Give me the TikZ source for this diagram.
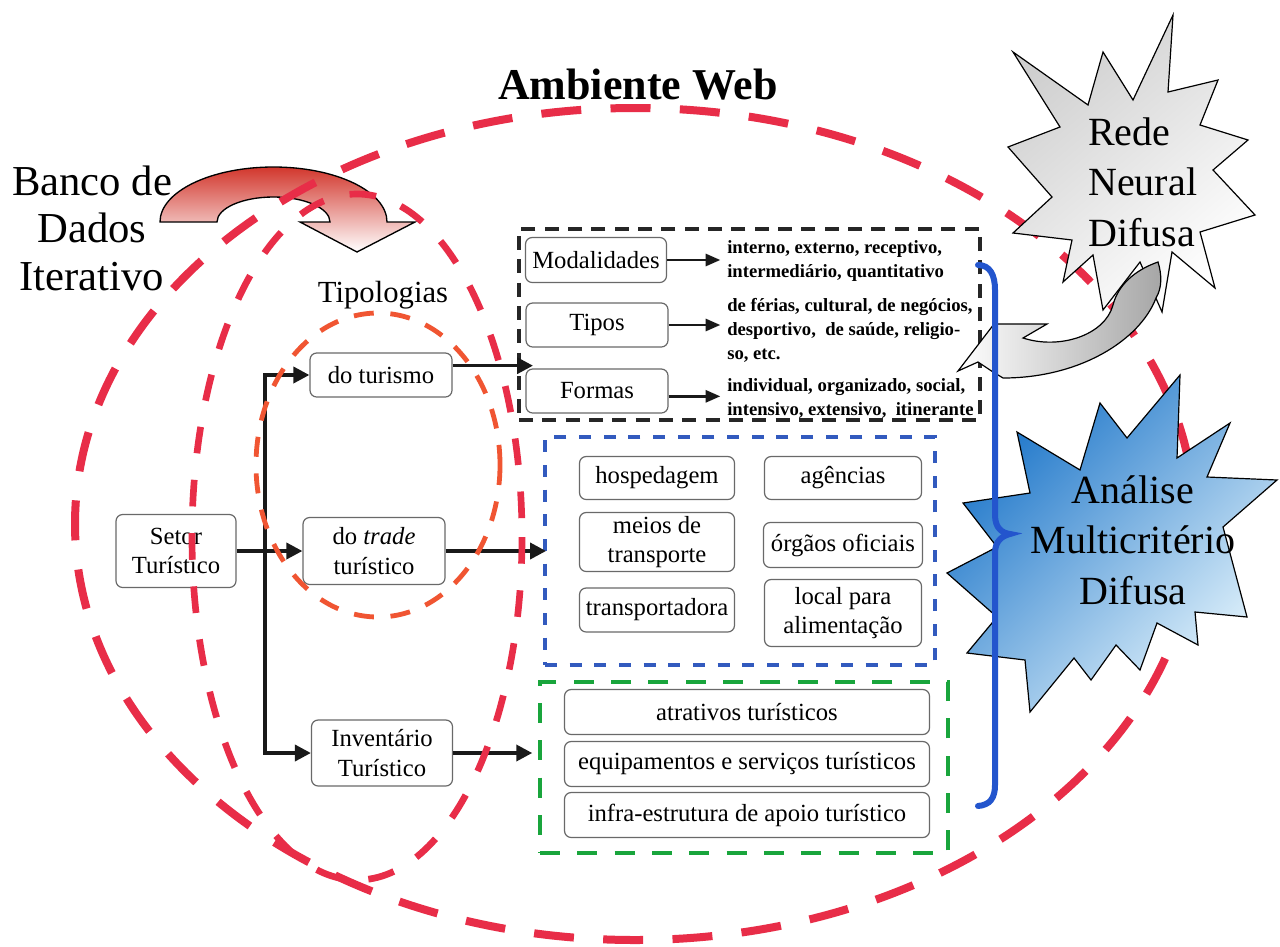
\documentclass[tikz,border=0pt]{standalone}
\usepackage{fontspec}
\setmainfont{Liberation Serif}
\usetikzlibrary{arrows.meta}

\newcommand\boxfont{\fontsize{18.5}{22}\selectfont}
\newcommand\notefont{\bfseries\fontsize{14}{18}\selectfont}

\definecolor{webred}{RGB}{232,45,72}
\definecolor{tipred}{RGB}{240,85,50}
\definecolor{infoblue}{RGB}{50,90,190}
\definecolor{invgreen}{RGB}{25,165,60}
\definecolor{bracecol}{RGB}{35,85,205}
\definecolor{boxgray}{RGB}{105,105,105}
\definecolor{dbred}{RGB}{210,55,45}
\definecolor{mcblue}{RGB}{25,115,200}
\definecolor{mclight}{RGB}{228,244,252}

\begin{document}
\begin{tikzpicture}[x=0.75pt,y=-0.75pt,
  tbox/.style={draw=boxgray,line width=0.9pt,rounded corners=5pt,fill=white,align=center,inner sep=0pt,font=\boxfont},
  sz/.style 2 args={minimum width=#1*0.75pt,minimum height=#2*0.75pt},
  notetext/.style={anchor=west,align=left,inner sep=0pt,font=\notefont},
  frameblack/.style={draw=black!85,line width=3pt,dash pattern=on 10.5pt off 7pt,inner sep=0pt},
  frameblue/.style={draw=infoblue,line width=2.4pt,dash pattern=on 9pt off 9.5pt,inner sep=0pt},
  framegreen/.style={draw=invgreen,line width=3.6pt,dash pattern=on 15pt off 13pt,inner sep=0pt},
  arr/.style={draw=black!90,line width=2.7pt,-{Triangle[length=12pt,width=12pt]}},
  arrsmall/.style={draw=black!90,line width=2pt,-{Triangle[length=11pt,width=9pt]}},
  ringweb/.style={draw=webred,line width=6pt,dash pattern=on 30pt off 22pt},
  ringdb/.style={draw=webred,line width=5pt,dash pattern=on 20pt off 20pt},
  ringtipo/.style={draw=tipred,line width=3.6pt,dash pattern=on 15pt off 12.5pt},
  startext/.style={inner sep=0pt,font=\fontsize{30}{38}\selectfont},
]
\fill[white] (0,0) rectangle (1280,946);
\useasboundingbox (0,0) rectangle (1280,946);

% titles
\node[inner sep=0pt,font=\bfseries\fontsize{33}{40}\selectfont] (title) at (638,85) {Ambiente Web};
\node[inner sep=0pt,align=center,font=\fontsize{32}{35.6}\selectfont] (dbtext) at (92,228) {Banco de\\Dados\\Iterativo};
\node[inner sep=0pt,font=\fontsize{23}{27}\selectfont] (tiptitle) at (383,295) {Tipologias};

% dashed groups
\node[frameblack,sz={461}{191}] (typbox) at (749.5,324.5) {};
\node[frameblue,sz={390}{228}] (tradebox) at (740,551) {};
\node[framegreen,sz={408}{171}] (invbox) at (744,767.5) {};

% main chain
\node[tbox,sz={120}{73}] (setor) at (176,551) {Setor\\Turístico};
\node[tbox,sz={142}{44}] (turismo) at (381,375) {do turismo};
\node[tbox,sz={142}{67}] (trade) at (374,551) {do \textit{trade}\\turístico};
\node[tbox,sz={141}{66}] (invent) at (382,753) {Inventário\\Turístico};

% typologies of tourism
\node[tbox,sz={141}{45}] (modal) at (596,260) {Modalidades};
\node[tbox,sz={142}{44}] (tipos) at (597,325) {Tipos};
\node[tbox,sz={142}{44}] (formas) at (597,391) {Formas};
\node[notetext] (modnote) at (727,261) {interno, externo, receptivo,\\intermediário, quantitativo};
\node[notetext] (tipnote) at (727,330) {de férias, cultural, de negócios,\\desportivo,\ \ de saúde, religio-\\so, etc.};
\node[notetext] (fornote) at (727,398) {individual, organizado, social,\\intensivo, extensivo,\ \ itinerante};

% tourist trade
\node[tbox,sz={155}{43}] (hosp) at (657,478) {hospedagem};
\node[tbox,sz={157}{43}] (agenc) at (843,478) {agências};
\node[tbox,sz={155}{59}] (meios) at (657,542) {meios de\\transporte};
\node[tbox,sz={159}{45}] (orgaos) at (843,545) {órgãos oficiais};
\node[tbox,sz={155}{44}] (transp) at (657,610) {transportadora};
\node[tbox,sz={157}{67}] (local) at (843,613) {local para\\alimentação};

% inventory
\node[tbox,sz={365}{45}] (atrat) at (747,712) {atrativos turísticos};
\node[tbox,sz={365}{45}] (equip) at (747,764) {equipamentos e serviços turísticos};
\node[tbox,sz={365}{45}] (infra) at (747,815) {infra-estrutura de apoio turístico};

% connectors
\coordinate (fork) at (265,551);
\draw[arr] (setor.east) -- (trade.west);
\draw[arr] (fork) |- (turismo.west);
\draw[arr] (fork) |- (invent.west);
\draw[arr,shorten >=-12pt] ([yshift=7pt]turismo.east) -- ([yshift=7pt]turismo.east -| typbox.west);
\draw[arr,shorten >=-2pt] (trade.east) -- (trade.east -| tradebox.west);
\draw[arr,shorten >=4pt] (invent.east) -- (invent.east -| invbox.west);
\draw[arrsmall,shorten >=5pt] (modal.east) -- (modal.east -| modnote.west);
\draw[arrsmall,shorten >=5pt] (tipos.east) -- (tipos.east -| tipnote.west);
\draw[arrsmall,shorten >=5pt] ([yshift=-4pt]formas.east) -- ([yshift=-4pt]formas.east -| fornote.west);

% iterative database arrow
\path[draw=black,line width=1pt,top color=dbred,middle color=dbred!18,bottom color=white]
  (160,222) .. controls (160,191.6) and (210.8,167) .. (273.5,167)
  .. controls (336.2,167) and (387,191.6) .. (387,222)
  -- (415,222) -- (357,252) -- (300,222) -- (330,222)
  .. controls (330,208.2) and (304.7,197) .. (273.5,197)
  .. controls (242.3,197) and (217,208.2) .. (217,222) -- cycle;

% dashed rings
\draw[ringweb] (635,524) ellipse [x radius=560, y radius=416];
\draw[ringdb] (357,537) ellipse [x radius=165, y radius=343];
\draw[ringtipo] (378,465) ellipse [x radius=122, y radius=152];

% fuzzy neural network burst
\path[draw=black,line width=0.9pt,top color=gray!38,middle color=gray!8,bottom color=white,shading angle=40]
  (1173,15) -- (1168,92) -- (1218,80) -- (1200,125) -- (1248,140) -- (1213,170)
  -- (1255,215) -- (1200,232) -- (1215,288) -- (1172,252) -- (1162,312) -- (1140,262)
  -- (1103,310) -- (1093,255) -- (1063,282) -- (1072,240) -- (1013,233) -- (1052,197)
  -- (1008,147) -- (1060,127) -- (1013,52) -- (1088,105) -- (1103,52) -- (1133,100) -- cycle;
\node[startext,anchor=west,align=left] (rnd) at (1088,182) {Rede\\Neural\\Difusa};

% fuzzy multicriteria burst
\path[draw=black,line width=0.9pt,top color=mcblue,bottom color=mclight,shading angle=45]
  (1180,375) -- (1177,458) -- (1230,423) -- (1207,477) -- (1277,480) -- (1223,527)
  -- (1247,617) -- (1195,612) -- (1198,645) -- (1157,623) -- (1140,670) -- (1116,645)
  -- (1091,680) -- (1074,658) -- (1030,712) -- (1025,660) -- (967,653) -- (997,617)
  -- (947,573) -- (997,547) -- (963,503) -- (1030,493) -- (1017,432) -- (1080,470)
  -- (1100,403) -- (1127,438) -- cycle;
\node[startext,align=center] (amd) at (1133,540) {Análise\\Multicritério\\Difusa};

% feedback arrow from the neural network
\path[draw=black,line width=0.9pt,left color=white,right color=gray!70]
  (958,371) -- (994,324) -- (1047,324) -- (1023,338)
  .. controls (1060,350) and (1105,335) .. (1113,305)
  .. controls (1118,285) and (1135,270) .. (1158,262)
  .. controls (1162,275) and (1162,288) .. (1156,298)
  .. controls (1140,340) and (1080,378) .. (1003,378)
  -- (993,372) -- (978,362) -- cycle;

% brace gathering the groups
\draw[bracecol,line width=4.5pt,line cap=round]
  (978,265) .. controls (990,265) and (995,275) .. (995,290) -- (995,515)
  .. controls (995,528) and (1002,533) .. (1010,534)
  .. controls (1002,536) and (995,541) .. (995,553) -- (995,785)
  .. controls (995,798) and (990,805) .. (978,806);
\end{tikzpicture}
\end{document}
